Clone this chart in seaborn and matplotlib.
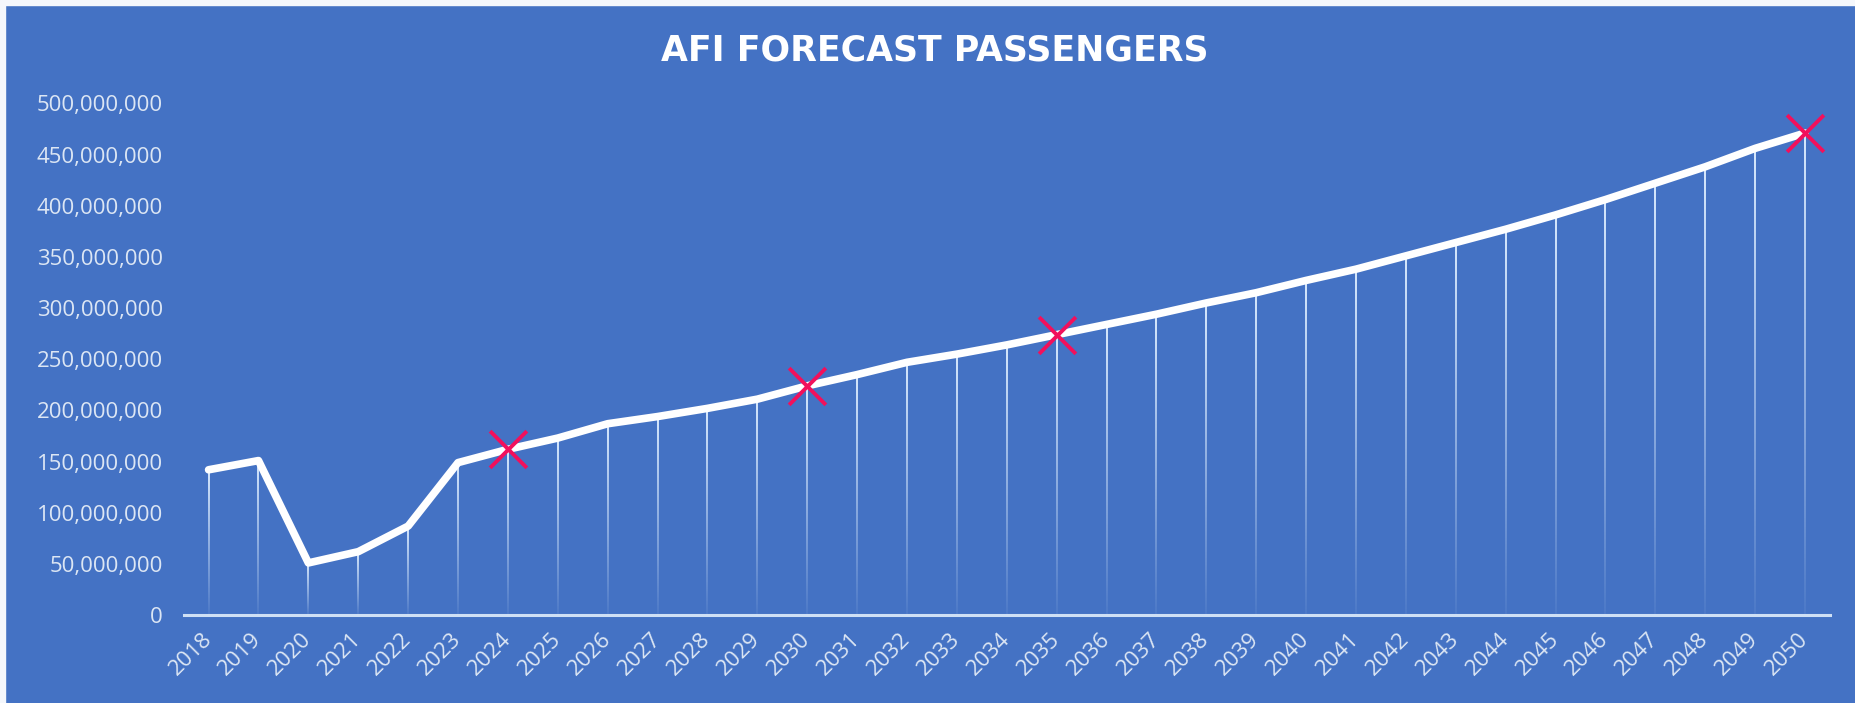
import numpy as np
import pandas as pd
import matplotlib
matplotlib.use("Agg")
import matplotlib.pyplot as plt
import seaborn as sns
from matplotlib.patches import Rectangle
from matplotlib.ticker import FuncFormatter
import matplotlib.transforms as mtransforms

# ---- data ----
years = list(range(2018, 2051))
passengers = [142e6, 151e6, 51e6, 62e6, 87e6, 149e6, 162e6, 173e6, 187e6, 194e6,
              202e6, 211e6, 224e6, 235e6, 247e6, 255e6, 264e6, 274e6, 284e6, 294e6,
              305e6, 315e6, 327e6, 338e6, 351e6, 364e6, 377e6, 391e6, 406e6, 422e6,
              438e6, 456e6, 471e6]
marked_years = [2024, 2030, 2035, 2050]
title = "AFI FORECAST PASSENGERS"
ytick_values = list(range(0, 500_000_001, 50_000_000))

df = pd.DataFrame({"year": years, "passengers": passengers})

BG = "#4472C4"
LABEL = "#dce6f4"

sns.set_style("white")
plt.rcParams["font.family"] = ["Open Sans", "DejaVu Sans"]

fig = plt.figure(figsize=(18.55, 7.03), dpi=100, facecolor=BG)
ax = fig.add_axes([0.099, 0.125, 0.8875, 0.728])
ax.set_facecolor(BG)

# gradient drop lines (fading toward the baseline)
rows = 256
grad = np.zeros((rows, 1, 4))
grad[..., 0] = 0.87
grad[..., 1] = 0.93
grad[..., 2] = 1.0
grad[:, 0, 3] = 0.06 + 0.9 * np.linspace(0, 1, rows)
half_w = 1.0 / 49.9
for x, v in zip(df["year"], df["passengers"]):
    ax.imshow(grad, extent=[x - half_w, x + half_w, 0, v], origin="lower",
              aspect="auto", interpolation="bilinear", zorder=2)

sns.lineplot(data=df, x="year", y="passengers", ax=ax, color="white",
             linewidth=5.5, zorder=3, solid_joinstyle="round")

mk = df[df["year"].isin(marked_years)]
ax.scatter(mk["year"], mk["passengers"], marker="x", s=700, color="#f2105c",
           linewidths=2.8, zorder=4)

ax.set_xlim(years[0] - 0.5, years[-1] + 0.5)
ax.set_ylim(0, 500_000_000)
ax.set_aspect("auto")
ax.set_xticks(years)
ax.set_xticklabels([str(y) for y in years], rotation=45, ha="right", va="center",
                   rotation_mode="anchor", color=LABEL, fontsize=16)
offset = mtransforms.ScaledTranslation(9 / 100, 0, fig.dpi_scale_trans)
for lbl in ax.get_xticklabels():
    lbl.set_transform(lbl.get_transform() + offset)
ax.set_yticks(ytick_values)
ax.yaxis.set_major_formatter(FuncFormatter(lambda v, p: f"{int(v):,}"))
ax.tick_params(axis="y", length=0, pad=15, labelcolor=LABEL, labelsize=16)
ax.tick_params(axis="x", length=0, pad=15)
ax.set_xlabel("")
ax.set_ylabel("")
for s in ["top", "right", "left"]:
    ax.spines[s].set_visible(False)
ax.spines["bottom"].set_color("#cfe0f5")
ax.spines["bottom"].set_linewidth(2.2)
ax.spines["bottom"].set_zorder(5)
ax.grid(False)

fig.text(0.504, 0.928, title, ha="center", va="center", color="white",
         fontsize=25, fontweight="bold", family=["DejaVu Sans"])

# light frame strips at top and left of the screenshot
fig.patches.append(Rectangle((0, 1 - 5 / 703), 1, 5 / 703, transform=fig.transFigure,
                             color="#f4f7fc", zorder=10))
fig.patches.append(Rectangle((0, 0), 5 / 1855, 1, transform=fig.transFigure,
                             color="#f4f7fc", zorder=10))

fig.savefig("out.png", dpi=100, facecolor=BG)
